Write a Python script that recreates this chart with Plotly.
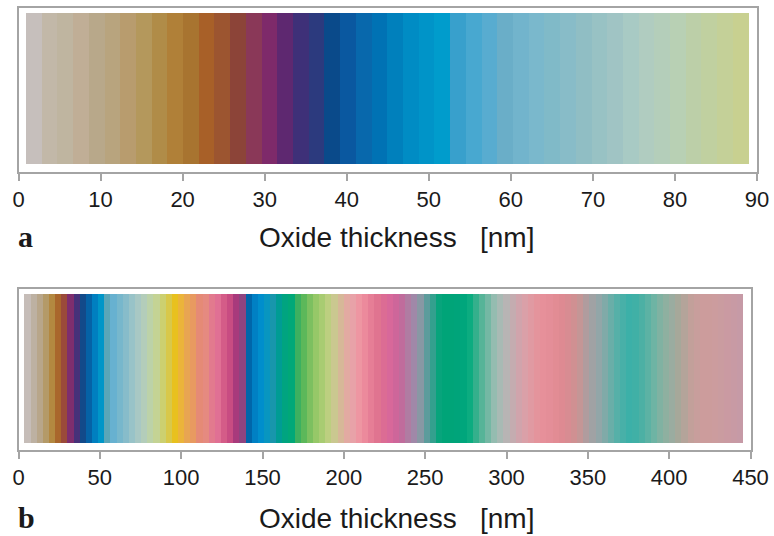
import numpy as np
import plotly.graph_objects as go

# ---------------- data ----------------
# Panel a: oxide thickness (nm, centre of each colour band) and observed interference colour
thickness_a = [1.89, 3.80, 5.72, 7.63, 9.55, 11.46, 13.37, 15.29, 17.20, 19.12,
               21.03, 22.95, 24.86, 26.78, 28.69, 30.61, 32.52, 34.44, 36.35, 38.26,
               40.18, 42.09, 44.01, 45.92, 47.84, 49.75, 51.67, 53.58, 55.50, 57.41,
               59.33, 61.24, 63.15, 65.07, 66.98, 68.90, 70.81, 72.73, 74.64, 76.56,
               78.47, 80.38, 82.30, 84.21, 86.13, 88.04]
colors_a = ["#c6bfbc", "#c2b8a8", "#bfb5a0", "#c0ae96", "#b8a88a", "#b8a47e", "#b89c6e", "#b4985c",
            "#b08c48", "#b08038", "#a87430", "#a86028", "#9c5530", "#8c4438", "#8a3858", "#7e2a6a",
            "#5e2870", "#3e3078", "#2c3a7e", "#0a4a8a", "#0a58a0", "#0868ac", "#0072b4", "#0080bc",
            "#008cc4", "#0094c8", "#009ccc", "#38a0cc", "#48a8d0", "#58acd0", "#6aaec8", "#72b4cc",
            "#7ab8cc", "#80bac8", "#88bcc8", "#90bec4", "#98c2c4", "#a0c4c4", "#a8cac4", "#b0ccc0",
            "#b4ceba", "#b8d0b4", "#bccfa8", "#c0d0a0", "#c4d098", "#c8d090"]

# Panel b: oxide thickness (nm) and colour
thickness_b = [5.58, 9.35, 13.13, 16.90, 20.68, 24.45, 28.23, 32.00, 35.78, 39.55,
               43.33, 47.10, 50.88, 54.65, 58.43, 62.20, 65.98, 69.75, 73.53, 77.30,
               81.08, 84.85, 88.63, 92.40, 96.18, 99.95, 103.73, 107.50, 111.28, 115.05,
               118.83, 122.60, 126.38, 130.15, 133.93, 137.70, 141.48, 145.25, 149.03, 152.80,
               156.58, 160.35, 164.13, 167.90, 171.68, 175.45, 179.23, 183.00, 186.78, 190.55,
               194.33, 198.10, 201.88, 205.65, 209.43, 213.20, 216.98, 220.75, 224.53, 228.30,
               232.08, 235.85, 239.63, 243.40, 247.18, 250.95, 254.73, 258.50, 262.28, 266.05,
               269.83, 273.60, 277.38, 281.15, 284.93, 288.70, 292.48, 296.25, 300.03, 303.80,
               307.58, 311.35, 315.13, 318.90, 322.68, 326.45, 330.23, 334.00, 337.78, 341.55,
               345.33, 349.10, 352.88, 356.65, 360.43, 364.20, 367.98, 371.75, 375.53, 379.30,
               383.08, 386.85, 390.63, 394.40, 398.18, 401.95, 405.73, 409.50, 413.28, 417.05,
               420.83, 424.60, 428.38, 432.15, 435.93, 439.70, 443.48]
colors_b = ["#c6bdb8", "#bdb1a2", "#b8a68a", "#b49a68", "#b38840", "#a9662c", "#9b4a3a", "#7e2e6e",
            "#463179", "#124a8a", "#0562a6", "#007fc0", "#0096c8", "#5aa6b8", "#67b1d0", "#77b7cc",
            "#87bcca", "#98c3c8", "#a8c8c4", "#b3cdba", "#bcd2a8", "#c4d394", "#ccd070", "#d8c84a",
            "#e8c11e", "#ebb43a", "#e8a552", "#e89a60", "#e58a76", "#e58a80", "#e27a8e", "#e07094",
            "#d45c88", "#c84c82", "#a83a7c", "#8e4480", "#0066aa", "#0080c4", "#008ecc", "#0896c0",
            "#1896ac", "#009c94", "#00a480", "#00a878", "#3cb060", "#5cb85a", "#7cc060", "#96c868",
            "#a8cc72", "#bccf80", "#cac890", "#d6b898", "#e2aaa2", "#e8a2a8", "#ee96a2", "#ec8a9c",
            "#e67e96", "#e07490", "#dc6c94", "#d8689a", "#ce669a", "#c06c9c", "#b07ca2", "#a088a8",
            "#8898a4", "#5c9c9c", "#34a08e", "#08a47c", "#00a478", "#00a478", "#00a47a", "#00a67c",
            "#0cac80", "#34b08c", "#56b498", "#74b8a4", "#94bcb0", "#a8bab4", "#b8b4b4", "#c4acb0",
            "#d0a4ac", "#daa0a8", "#e09aa2", "#e4949c", "#e6909a", "#e48e98", "#e28c94", "#de8a92",
            "#d88c92", "#d09092", "#c49696", "#b09c9e", "#a0a2a4", "#92a6a8", "#80aaa8", "#6aaea8",
            "#56b0a8", "#48b0a8", "#3cb0a8", "#40b0a6", "#4cb0a4", "#5cb2a4", "#6eb4a4", "#80b2a2",
            "#8eb0a0", "#9aaca0", "#a6a89a", "#b4a49a", "#c2a09a", "#c89e9c", "#cc9c9c", "#cc9c9c",
            "#cc9c9e", "#ca9ca0", "#ca9aa2", "#c89aa4", "#c69aa6"]

ticks_a = [0, 10, 20, 30, 40, 50, 60, 70, 80, 90]
ticks_b = [0, 50, 100, 150, 200, 250, 300, 350, 400, 450]
axis_title = "Oxide thickness   [nm]"
panel_labels = ["a", "b"]

# ---------------- figure ----------------
W, H = 774, 536
FRAME = "#a4a4a4"
TXT = "#1a1a1a"
FONT = "Liberation Sans, Arial, sans-serif"

fig = go.Figure()

def band_width(vals):
    # slightly wider than the spacing so neighbouring bands meet without hairline gaps
    return float(np.max(np.diff(vals))) * 1.02

fig.add_trace(go.Bar(x=thickness_a, y=[1] * len(thickness_a),
                     width=band_width(thickness_a),
                     marker=dict(color=colors_a, line=dict(width=0)),
                     xaxis="x", yaxis="y", hoverinfo="skip", showlegend=False))
fig.add_trace(go.Bar(x=thickness_b, y=[1] * len(thickness_b),
                     width=band_width(thickness_b),
                     marker=dict(color=colors_b, line=dict(width=0)),
                     xaxis="x2", yaxis="y2", hoverinfo="skip", showlegend=False))

def px_x(p):
    return p / W

def px_y(p):
    return 1 - p / H

axis_common = dict(showgrid=False, zeroline=False, showline=True, linecolor=FRAME,
                   linewidth=2, mirror=True, ticks="outside", ticklen=7, tickwidth=2,
                   tickcolor=FRAME, tickfont=dict(family=FONT, size=22, color=TXT),
                   fixedrange=True, automargin=False)
yaxis_common = dict(showgrid=False, zeroline=False, showline=True, linecolor=FRAME,
                    linewidth=2, mirror=True, showticklabels=False, ticks="",
                    fixedrange=True, automargin=False)

fig.update_layout(
    width=W, height=H,
    margin=dict(l=0, r=0, t=0, b=0, autoexpand=False),
    paper_bgcolor="white", plot_bgcolor="white",
    bargap=0,
    xaxis=dict(domain=[px_x(18.5), px_x(757)], range=[0, 90], tickvals=ticks_a,
               anchor="y", **axis_common),
    yaxis=dict(domain=[px_y(172), px_y(7.5)], range=[-0.052, 1.039], anchor="x",
               **yaxis_common),
    xaxis2=dict(domain=[px_x(18.5), px_x(750.5)], range=[0, 450], tickvals=ticks_b,
                anchor="y2", **axis_common),
    yaxis2=dict(domain=[px_y(450), px_y(288.5)], range=[-0.049, 1.036], anchor="x2",
                **yaxis_common),
)

for yc in (237, 518):
    fig.add_annotation(x=px_x(396), y=px_y(yc), xref="paper", yref="paper",
                       text=axis_title, showarrow=False, xanchor="center", yanchor="middle",
                       font=dict(family=FONT, size=28, color=TXT))
for lab, yc in zip(panel_labels, (236, 517)):
    fig.add_annotation(x=px_x(16), y=px_y(yc), xref="paper", yref="paper",
                       text="<b>" + lab + "</b>", showarrow=False, xanchor="left",
                       yanchor="middle",
                       font=dict(family="Liberation Serif, Times New Roman, serif", size=30,
                                 color=TXT))

fig.write_html("out.html",
               config={"displayModeBar": False, "staticPlot": True},
               post_script="document.body.style.margin='0';document.body.style.overflow='hidden';")
